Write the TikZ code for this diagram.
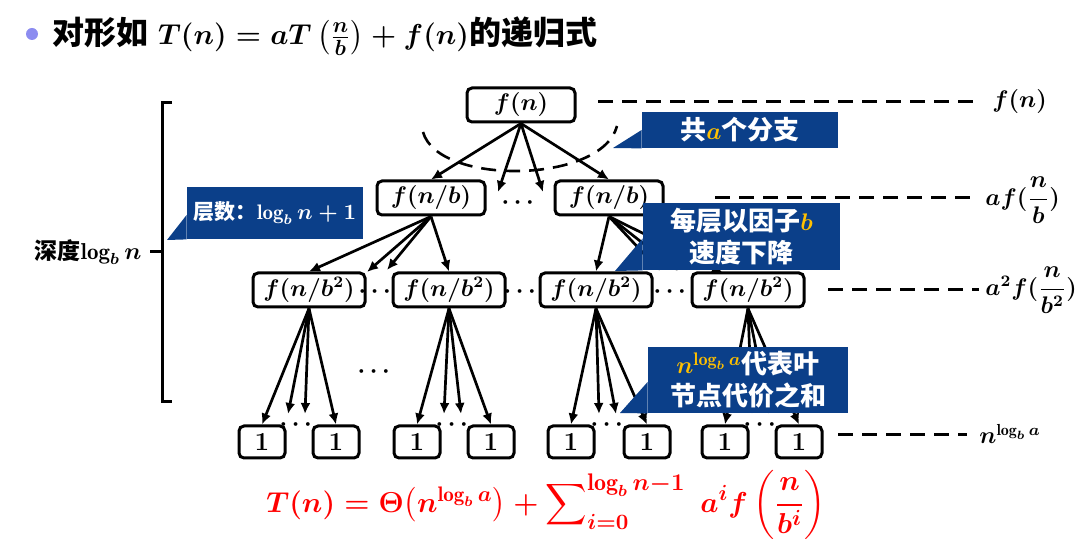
\documentclass[tikz,border=0pt]{standalone}
\usepackage{fontspec}
\usepackage{amsmath}
\newfontfamily\cjk{Noto Sans CJK SC}
\usetikzlibrary{arrows.meta}
\definecolor{calloutblue}{RGB}{11,63,137}
\definecolor{hlyellow}{RGB}{255,192,0}
\definecolor{bulletblue}{RGB}{140,140,240}
\tikzset{
  rec/.style={draw, line width=1.5pt, rounded corners=2.5pt, minimum width=54pt, minimum height=17pt, inner sep=1pt, font=\fontsize{12}{14}\selectfont\boldmath},
  leafbox/.style={draw, line width=1.5pt, rounded corners=2.5pt, minimum width=23pt, minimum height=16pt, inner sep=1pt, font=\fontsize{13}{15}\selectfont\bfseries},
  arr/.style={-{Latex[length=5.5pt,width=5pt]}, line width=1.35pt},
  lvl/.style={dash pattern=on 7.5pt off 4.5pt, line width=1.5pt},
  callout/.style={fill=calloutblue, text=white, inner sep=0pt, align=center, font=\fontsize{13}{16}\selectfont\cjk\bfseries\boldmath},
  dotsnode/.style={inner sep=0pt, font=\fontsize{12}{14}\selectfont\boldmath},
}
\begin{document}
\begin{tikzpicture}[x=0.5pt, y=-0.5pt]
\useasboundingbox (0,0) rectangle (1076,549);

% Title
\fill[bulletblue] (32,34) circle (3pt);
\node[anchor=west, inner sep=0pt, font=\fontsize{16}{18}\selectfont\boldmath] (title) at (52,36)
  {{\cjk\bfseries 对形如} {\fontsize{15}{17}\selectfont$T(n)=aT\left(\frac{n}{b}\right)+f(n)$}{\cjk\bfseries 的递归式}};

% Tree levels
\node[rec] (root) at (521,105) {$f(n)$};
\node[rec] (l1a) at (431,198) {$f(n/b)$};
\node[rec] (l1b) at (609,198) {$f(n/b)$};
\node[dotsnode] (d1) at (520,203) {$\cdots$};

\node[rec, minimum width=56pt] (l2a) at (309,290) {$f(n/b^2)$};
\node[rec, minimum width=56pt] (l2b) at (449,290) {$f(n/b^2)$};
\node[rec, minimum width=56pt] (l2c) at (596,290) {$f(n/b^2)$};
\node[rec, minimum width=56pt] (l2d) at (748,290) {$f(n/b^2)$};
\node[dotsnode] at (377,292) {$\cdots$};
\node[dotsnode] at (522,292) {$\cdots$};
\node[dotsnode] at (672,292) {$\cdots$};
\node[dotsnode] at (376,372) {$\cdots$};

\foreach \x [count=\i] in {262,336,417,491,571,647,725,799}
  \node[leafbox] (leaf\i) at (\x,442) {1};

% Root -> level 1
\coordinate (r1) at (498,192);
\coordinate (r2) at (543,192);
\draw[arr] (root.south) -- (l1a.north);
\draw[arr] (root.south) -- (r1);
\draw[arr] (root.south) -- (r2);
\draw[arr] (root.south) -- (l1b.north);

% Level 1 -> level 2
\coordinate (a1) at (367,272);
\coordinate (a2) at (387,270);
\coordinate (b1) at (660,271);
\coordinate (b2) at (678,271);
\coordinate (b3) at (723,273);
\draw[arr] (l1a.south) -- (l2a.north);
\draw[arr] (l1a.south) -- (a1);
\draw[arr] (l1a.south) -- (a2);
\draw[arr] (l1a.south) -- (l2b.north);
\draw[arr] (l1b.south) -- (l2c.north);
\draw[arr] (l1b.south) -- (b1);
\draw[arr] (l1b.south) -- (b2);
\draw[arr] (l1b.south) -- (b3);

% Level 2 -> leaves
\foreach \p/\m [count=\j] in {l2a/298, l2b/454, l2c/609, l2d/762} {
  \pgfmathtruncatemacro{\lft}{2*\j-1}
  \pgfmathtruncatemacro{\rgt}{2*\j}
  \coordinate (in\j a) at (\m-10,414);
  \coordinate (in\j b) at (\m+7,414);
  \draw[arr] (\p.south) -- (leaf\lft.north);
  \draw[arr] (\p.south) -- (in\j a);
  \draw[arr] (\p.south) -- (in\j b);
  \draw[arr] (\p.south) -- (leaf\rgt.north);
  \node[dotsnode] at (\m,425) {$\cdots$};
}

% Branch arc
\draw[lvl, line width=1.3pt] (423,132) .. controls (438,186) and (602,184) .. (617,126);

% Depth bracket
\node[anchor=east, inner sep=0pt, font=\fontsize{11.5}{14}\selectfont\boldmath] (depth) at (142,252)
  {{\cjk\bfseries 深度}$\log_b n$};
\draw[line width=1.5pt] (172,103) -- (162,103) -- (162,402) -- (172,402);
\draw[line width=1.5pt] (150,252) -- (162,252);

% Level sums
\node[anchor=west, inner sep=0pt, font=\fontsize{12}{14}\selectfont\boldmath] (s0) at (992,102) {$f(n)$};
\node[anchor=west, inner sep=0pt, font=\fontsize{12}{14}\selectfont\boldmath] (s1) at (985,200) {$af(\dfrac{n}{b})$};
\node[anchor=west, inner sep=0pt, font=\fontsize{12}{14}\selectfont\boldmath] (s2) at (985,290) {$a^2f(\dfrac{n}{b^2})$};
\node[anchor=west, inner sep=0pt, font=\fontsize{12}{14}\selectfont\boldmath] (s3) at (979,434) {$n^{\log_b a}$};
\coordinate (e0) at (977,102);
\coordinate (e1) at (978,198);
\coordinate (e2) at (979,290);
\coordinate (e3) at (967,435);
\draw[lvl] (598,102) -- (e0);
\draw[lvl] (715,198) -- (e1);
\draw[lvl] (828,290) -- (e2);
\draw[lvl] (838,435) -- (e3);

% Callouts
\node[callout, minimum width=88pt, minimum height=26pt, font=\fontsize{10.5}{13}\selectfont\cjk\bfseries\boldmath] (cD) at (275,213)
  {层数：$\log_b n+1$};
\fill[calloutblue] ([yshift=-1pt]cD.west) -- (167,240) -- (cD.south west) -- cycle;

\node[callout, minimum width=98pt, minimum height=18pt] (cA) at (740,130)
  {共\textcolor{hlyellow}{$a$}个分支};
\fill[calloutblue] (cA.west) -- (613,148) -- (cA.south west) -- cycle;

\node[callout, minimum width=98.5pt, minimum height=33.5pt] (cB) at (741.5,236.5)
  {每层以因子\textcolor{hlyellow}{$b$}\\速度下降};
\fill[calloutblue] ([yshift=-1pt]cB.west) -- (615,271) -- (cB.south west) -- cycle;

\node[callout, minimum width=100pt, minimum height=33pt] (cC) at (748,380)
  {\textcolor{hlyellow}{$n^{\log_b a}$}代表叶\\节点代价之和};
\fill[calloutblue] ([yshift=-1pt]cC.west) -- (620,413) -- (cC.south west) -- cycle;

% Total
\node[text=red, inner sep=0pt, font=\fontsize{15}{18}\selectfont\boldmath] (total) at (546,505)
  {$T(n)=\Theta\bigl(n^{\log_b a}\bigr)+\displaystyle\sum\nolimits_{i=0}^{\mbox{\fontsize{12}{14}\selectfont$\log_b n{-}1$}}\; a^i f\left(\frac{n}{b^i}\right)$};

\end{tikzpicture}
\end{document}
